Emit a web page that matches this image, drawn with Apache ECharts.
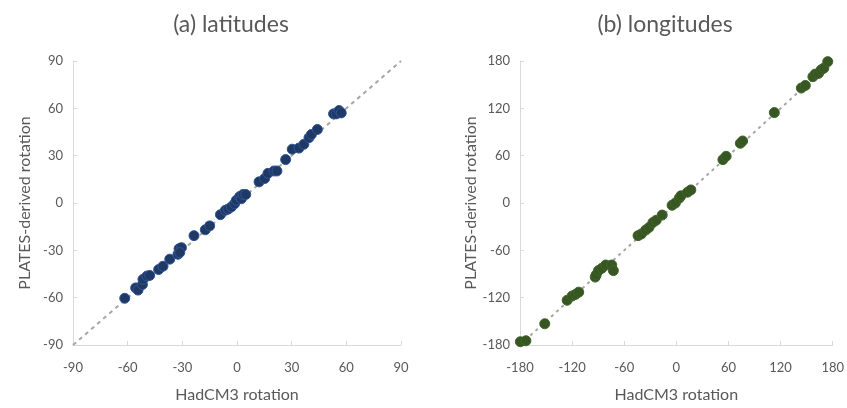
<!DOCTYPE html>
<html><head><meta charset="utf-8">
<script src="https://cdn.jsdelivr.net/npm/echarts@6/dist/echarts.min.js"></script>
<style>html,body{margin:0;padding:0;background:#fff}#c{width:847px;height:408px}</style>
</head><body><div id="c"></div>
<script>
const titles = ['(a) latitudes', '(b) longitudes'];
const xName = 'HadCM3 rotation';
const yName = 'PLATES-derived rotation';
const latTicks = [-90, -60, -30, 0, 30, 60, 90];
const lonTicks = [-180, -120, -60, 0, 60, 120, 180];
const latHad = [-61.6,-55.6,-54.3,-51.9,-51.6,-49.4,-47.9,-43,-40.6,-36.9,-32.4,-31.8,-30.5,-31.4,-23.6,-17.4,-15,-9.1,-6.4,-4.9,-3.1,-1.3,-0.4,1.5,2.4,3.3,4.8,12.1,15.2,17,20.3,21.9,26.7,30.3,34,36.7,39.5,40.8,44.1,53,54.5,56,57.2];
const latPlates = [-60.4,-53.8,-55.2,-51.7,-48.4,-46.3,-45.9,-42.2,-40.1,-35.6,-32.5,-29,-28.3,-31.4,-20.7,-17,-14.5,-7.4,-4.6,-3.9,-2.5,-0.4,1.7,4.1,2.7,5.4,5.4,13.4,15.5,18.8,20.3,20.3,27.5,34.1,34.8,37.2,41.4,43.4,46.6,56.5,56.5,58.6,57.1];
const lonHad = [-179.6,-173.2,-151.5,-125.7,-120,-116.2,-112.4,-93.4,-92.3,-89.6,-85.8,-81.3,-74.4,-72.5,-44.1,-40.3,-35.3,-31.5,-27,-23.2,-16.3,-4.9,-1.1,3.4,5.3,12.9,16.7,53.6,57.3,73.7,76.3,112.8,143.9,148.5,157.2,159.9,163.7,166.7,169.8,174.3];
const lonPlates = [-175.9,-174.6,-153.1,-123.3,-117.9,-115.9,-113,-93.9,-91,-85.7,-82.8,-78.6,-78.6,-85.7,-41.4,-39.3,-34.3,-31,-24.8,-21.9,-15.3,-2.9,0,6.2,9.1,13.7,16.6,55,59.2,75.7,78.6,114.6,145.7,149,160.1,163.4,164.3,168.8,170.9,179.2];

const FONT = 'Lato';
const TXT = '#595959';
function mkAxis(ticks, grid, isY) {
  return {
    type: 'value', gridIndex: grid,
    min: ticks[0], max: ticks[ticks.length - 1],
    interval: ticks[1] - ticks[0],
    name: isY ? yName : xName,
    nameLocation: 'middle',
    nameGap: isY ? 40 : 42,
    nameTextStyle: { color: TXT, fontSize: 16, fontFamily: FONT },
    axisLine: { onZero: false, lineStyle: { color: '#D9D9D9', width: 1 } },
    axisTick: { inside: true, length: 4, lineStyle: { color: '#D9D9D9' } },
    splitLine: { show: false },
    axisLabel: { color: TXT, fontSize: 13, fontFamily: FONT, margin: isY ? 10 : 16 }
  };
}
const chart = echarts.init(document.getElementById('c'));
chart.setOption({
  animation: false,
  title: [
    { text: titles[0], left: 226, top: 8, textAlign: 'center', textStyle: { color: TXT, fontSize: 23, fontWeight: 'normal', fontFamily: FONT } },
    { text: titles[1], left: 660, top: 8, textAlign: 'center', textStyle: { color: TXT, fontSize: 23, fontWeight: 'normal', fontFamily: FONT } }
  ],
  grid: [
    { left: 73, top: 61, width: 328, height: 287 },
    { left: 520, top: 61, width: 315, height: 287 }
  ],
  xAxis: [mkAxis(latTicks, 0, false), mkAxis(lonTicks, 1, false)],
  yAxis: [mkAxis(latTicks, 0, true), mkAxis(lonTicks, 1, true)],
  series: [
    { type: 'line', xAxisIndex: 0, yAxisIndex: 0, symbol: 'none', silent: true, z: 1,
      lineStyle: { color: '#A6A6A6', type: [4, 4], width: 2 },
      data: [[latTicks[0], latTicks[0]], [latTicks[6], latTicks[6]]] },
    { type: 'line', xAxisIndex: 1, yAxisIndex: 1, symbol: 'none', silent: true, z: 1,
      lineStyle: { color: '#A6A6A6', type: [3, 4], width: 2 },
      data: [[lonTicks[0], lonTicks[0]], [lonTicks[6], lonTicks[6]]] },
    { type: 'scatter', xAxisIndex: 0, yAxisIndex: 0, symbolSize: 10, z: 5,
      itemStyle: { color: '#1F3864', borderColor: '#2F5597', borderWidth: 1, opacity: 1 },
      data: latHad.map((v, i) => [v, latPlates[i]]) },
    { type: 'scatter', xAxisIndex: 1, yAxisIndex: 1, symbolSize: 10, z: 5,
      itemStyle: { color: '#375623', borderColor: '#3F6428', borderWidth: 1, opacity: 1 },
      data: lonHad.map((v, i) => [v, lonPlates[i]]) }
  ]
});
</script></body></html>
